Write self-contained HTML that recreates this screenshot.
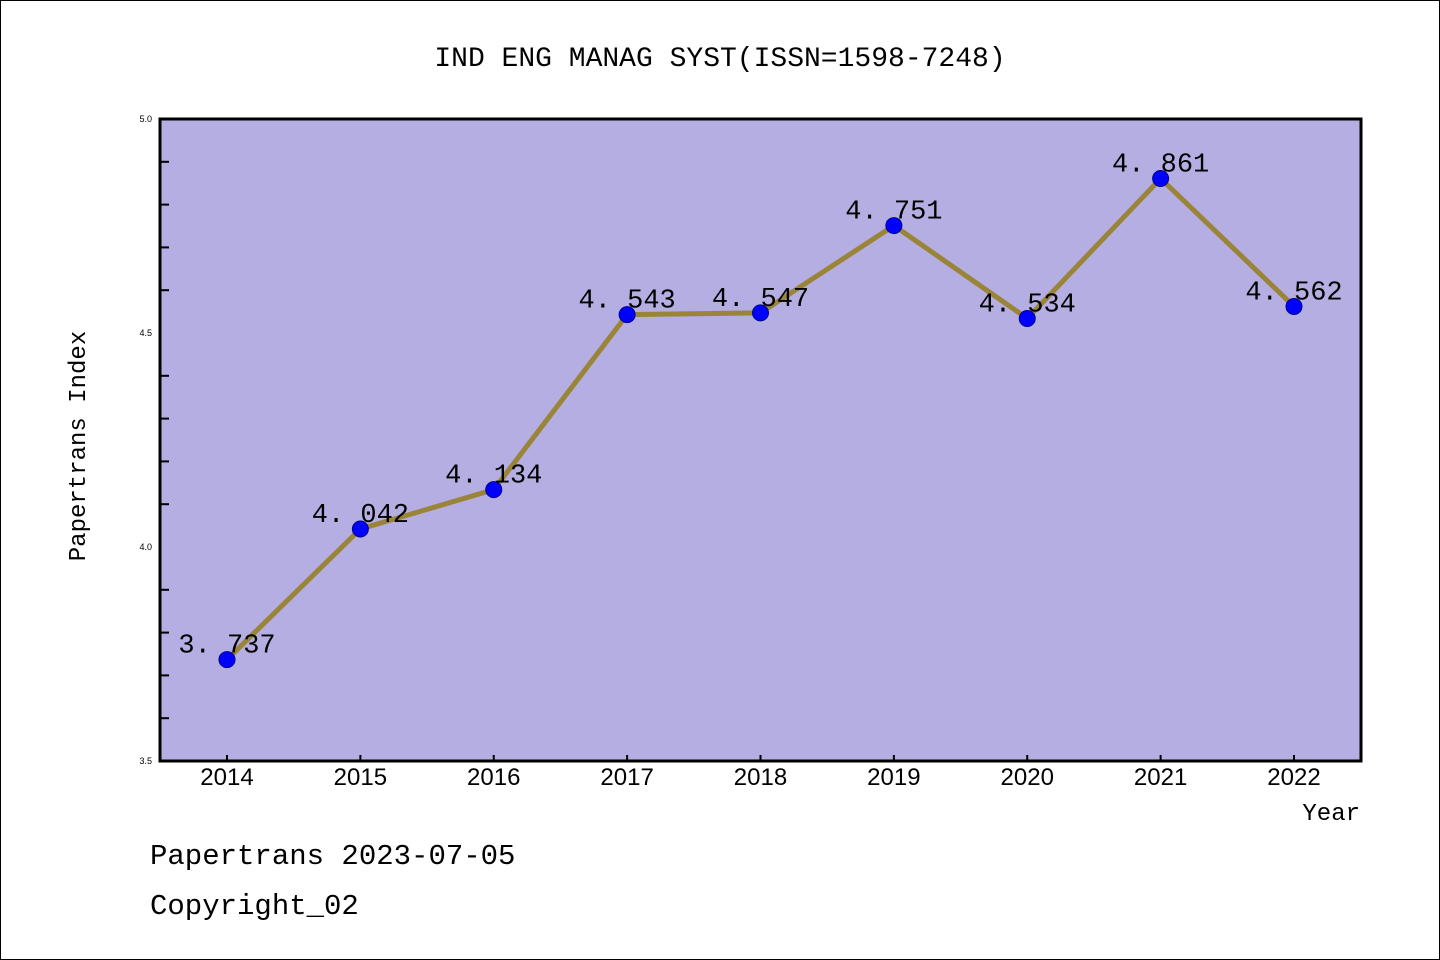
<!DOCTYPE html>
<html><head><meta charset="utf-8"><style>
body{margin:0;background:#fff}
svg{display:block;font-family:"Liberation Sans","Noto Sans CJK SC",sans-serif}
</style></head><body>
<svg width="1440" height="960" viewBox="0 0 1440 960">
<rect x="0.5" y="0.5" width="1439" height="959" fill="#fff" stroke="#000"/>
<text x="720" y="66" text-anchor="middle" font-size="28" font-family="Liberation Mono, monospace">IND ENG MANAG SYST(ISSN=1598-7248)</text>
<rect x="160" y="119" width="1201" height="642" fill="#b5aee2"/>
<g id="ticks"></g>
<polyline id="line" fill="none" stroke="#9a8438" stroke-width="5"/>
<g id="pts"></g>
<rect x="160" y="119" width="1201" height="642" fill="none" stroke="#000" stroke-width="3"/>
<text x="85" y="446" transform="rotate(-90 85 446)" text-anchor="middle" font-size="24" font-family="Liberation Mono, monospace">Papertrans Index</text>
<text x="1360" y="820" text-anchor="end" font-size="24" font-family="Liberation Mono, monospace">Year</text>
<text x="150" y="864" font-size="29" font-family="Liberation Mono, monospace">Papertrans 2023-07-05</text>
<text x="150" y="914" font-size="29" font-family="Liberation Mono, monospace">Copyright_02</text>
</svg>
<script>
const years=["2014","2015","2016","2017","2018","2019","2020","2021","2022"];
const values=[3.737,4.042,4.134,4.543,4.547,4.751,4.534,4.861,4.562];
const yTickLabels=["3.5","4.0","4.5","5.0"];
const NS="http://www.w3.org/2000/svg";
const yMin=3.5,yMax=5.0;
function sx(i){return 227+i*(1294-227)/(years.length-1);}
function sy(v){return 761-(v-yMin)/(yMax-yMin)*642;}
function mk(tag,attrs,parent){const e=document.createElementNS(NS,tag);for(const k in attrs)e.setAttribute(k,attrs[k]);parent.appendChild(e);return e;}
const tg=document.getElementById('ticks');
for(let k=1;k<15;k++){const v=yMin+k*0.1;if(k%5===0)continue;
 const t=mk('line',{x1:160,x2:169,y1:sy(v),y2:sy(v),stroke:'#000','stroke-width':2},tg);
 
 }
yTickLabels.forEach(l=>{const t=mk('text',{x:152,y:sy(+l)+3,'text-anchor':'end','font-size':9},tg);t.textContent=l;
 
 });
years.forEach((y,i)=>{const tk=mk('line',{x1:sx(i),x2:sx(i),y1:755,y2:761,stroke:'#000','stroke-width':2},tg);
 
 
 const t=mk('text',{x:sx(i),y:785,'text-anchor':'middle','font-size':24},tg);t.textContent=y;
 
 });
document.getElementById('line').setAttribute('points',values.map((v,i)=>sx(i)+','+sy(v)).join(' '));
const pg=document.getElementById('pts');
values.forEach((v,i)=>{const c=mk('circle',{cx:sx(i),cy:sy(v),r:8,fill:'#0000ff',stroke:'#00008b','stroke-width':1},pg);
 
 
 const t=mk('text',{x:sx(i),y:sy(v)-7,'text-anchor':'middle','font-size':27,'font-family':'Liberation Mono, monospace'},pg);
 t.textContent=v.toFixed(3).replace('.','. ');
 
 });
</script>
</body></html>
